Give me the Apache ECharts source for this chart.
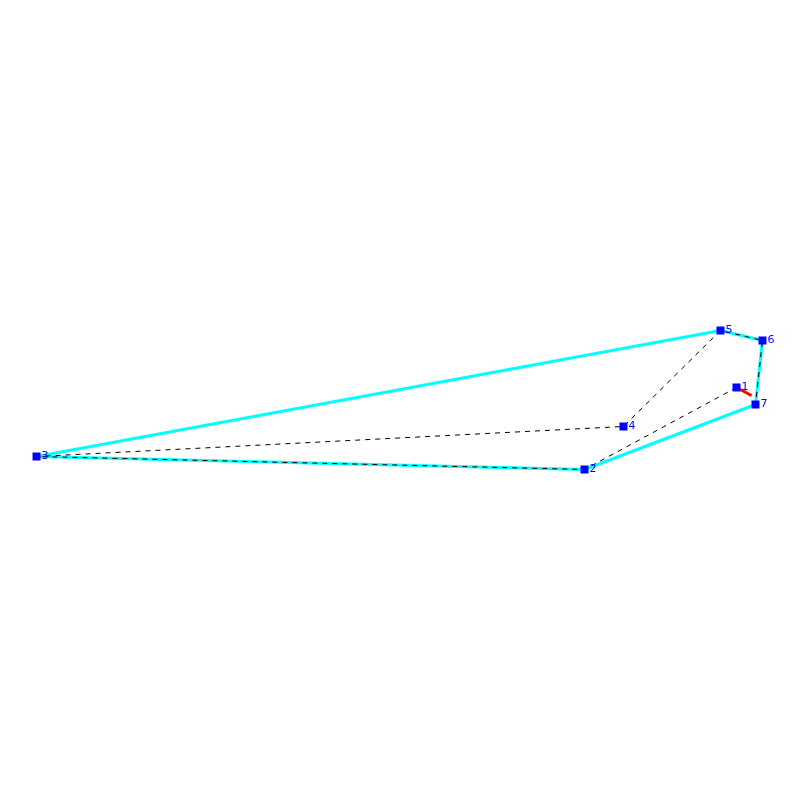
<!DOCTYPE html>
<html>
<head>
<meta charset="utf-8">
<style>html,body{margin:0;padding:0;background:#fff}#chart{width:800px;height:800px}</style>
<script src="https://cdn.jsdelivr.net/npm/echarts@6/dist/echarts.min.js"></script>
</head>
<body>
<div id="chart"></div>
<script>
// points as [x, y, label]
const points = [
  [736.5, 387.5, '1'],
  [584.5, 469.5, '2'],
  [36.5, 456.5, '3'],
  [623.5, 426.5, '4'],
  [720.5, 330.5, '5'],
  [762.5, 340.5, '6'],
  [755.5, 404.5, '7']
]
const hull = [[36.5, 456.5], [720.5, 330.5], [762.5, 340.5], [755.5, 404.5], [584.5, 469.5], [36.5, 456.5]]
const path = [[736.5, 387.5], [584.5, 469.5], [36.5, 456.5], [623.5, 426.5], [720.5, 330.5], [762.5, 340.5], [755.5, 404.5]]
const redPart = [[736.5, 387.5], [751.5, 395.5]]

const myChart = echarts.init(document.getElementById('chart'), null, {renderer: 'canvas'})
const option = {
  animation: false,
  grid: {left: 0, right: 0, top: 0, bottom: 0},
  xAxis: {type: 'value', min: 0, max: 800, show: false},
  yAxis: {type: 'value', min: 0, max: 800, inverse: true, show: false},
  series: [
    {
      type: 'line',
      data: hull,
      symbol: 'none',
      lineStyle: {color: '#00ffff', width: 3},
      z: 1
    },
    {
      type: 'line',
      data: redPart,
      symbol: 'none',
      lineStyle: {color: '#ff0000', width: 3},
      z: 2
    },
    {
      type: 'line',
      data: path,
      symbol: 'none',
      lineStyle: {color: '#000000', width: 1, type: [5, 5]},
      z: 3
    },
    {
      type: 'scatter',
      data: points,
      symbol: 'rect',
      symbolSize: 8,
      itemStyle: {color: '#0000ff', opacity: 1},
      label: {
        show: true,
        position: 'right',
        distance: 1,
        formatter: p => p.value[2],
        color: '#0000ff',
        fontFamily: 'DejaVu Sans',
        fontSize: 11
      },
      z: 4
    }
  ]
}
myChart.setOption(option)
</script>
</body>
</html>
